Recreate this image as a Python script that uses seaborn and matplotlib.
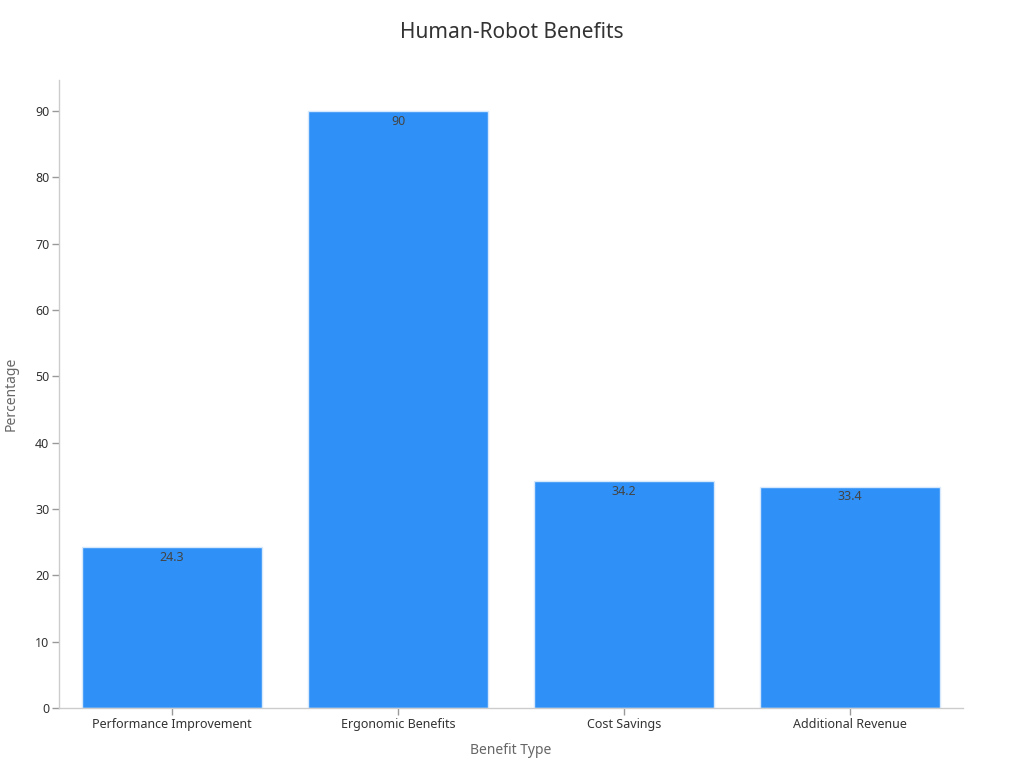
import matplotlib
matplotlib.use("Agg")
import matplotlib.pyplot as plt
import seaborn as sns
import pandas as pd

categories = ["Performance Improvement", "Ergonomic Benefits", "Cost Savings", "Additional Revenue"]
values = [24.3, 90, 34.2, 33.4]
value_labels = ["24.3", "90", "34.2", "33.4"]

sns.set_theme(style="white")
plt.rcParams['font.family'] = ['Noto Sans', 'DejaVu Sans']

df = pd.DataFrame({"Benefit Type": categories, "Percentage": values})

fig = plt.figure(figsize=(10.24, 7.68), dpi=100)
ax = fig.add_axes([59/1024, 1-708/768, (963-59)/1024, (708-80)/768])

sns.barplot(data=df, x="Benefit Type", y="Percentage", ax=ax, color="#2F91F7",
            saturation=1, width=0.8, edgecolor="#D6E9FC", linewidth=1)

ax.set_xlim(-0.5, 3.5)
ax.set_ylim(0, 94.7)
ax.set_yticks(range(0, 91, 10))

for c in ax.containers:
    ax.bar_label(c, labels=value_labels, label_type="edge", padding=-12,
                 fontsize=9, color="#444444")

for s in ["top", "right"]:
    ax.spines[s].set_visible(False)
for s in ["left", "bottom"]:
    ax.spines[s].set_color("#CCCCCC")
    ax.spines[s].set_linewidth(1)

ax.tick_params(axis="both", which="both", bottom=True, left=True, length=5, width=1,
               color="#999999", labelsize=9, labelcolor="#333333", direction="out")
ax.tick_params(axis="x", pad=2)
ax.tick_params(axis="y", pad=2)

ax.set_xlabel("Benefit Type", fontsize=10, color="#666666", labelpad=9)
ax.set_ylabel("Percentage", fontsize=10, color="#666666", labelpad=12)

fig.suptitle("Human-Robot Benefits", fontsize=15, color="#333333", y=1-33/768, va="center")

fig.savefig("out.png", dpi=100, facecolor="white")
